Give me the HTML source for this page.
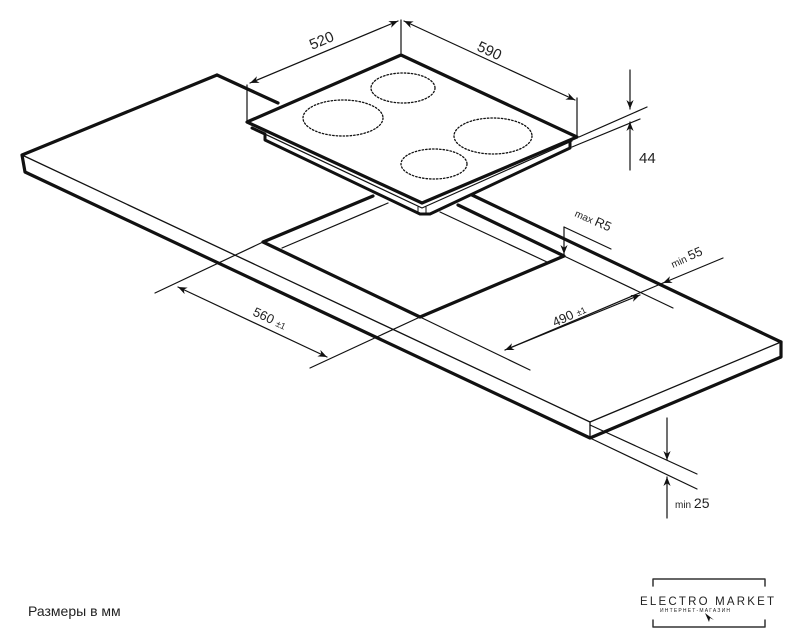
<!DOCTYPE html>
<html><head><meta charset="utf-8"><style>
html,body{margin:0;padding:0;background:#fff;}
svg{display:block;}
text{font-family:"Liberation Sans",sans-serif;fill:#222;}
</style></head><body>
<svg width="805" height="640" viewBox="0 0 805 640" xmlns="http://www.w3.org/2000/svg">
<defs>
<marker id="a" viewBox="0 0 10 10" refX="10" refY="5" markerWidth="9" markerHeight="9" orient="auto-start-reverse" markerUnits="userSpaceOnUse"><path d="M0,1 L10,5 L0,9 L3,5 Z" fill="#111"/></marker>
</defs>
<g stroke="#111" fill="none" stroke-linecap="round" stroke-linejoin="round">
<path d="M217,75 L22,155 L25,172 L590,438 L781,357 L781,342" stroke-width="3.2"/>
<path d="M22,155 L590,422 L781,342" stroke-width="1.3"/>
<path d="M590,422 L590,438" stroke-width="1.3"/>
<path d="M217,75 L278,103" stroke-width="3.2"/>
<path d="M472,195 L781,342" stroke-width="3.2"/>
<path d="M373,196 L263,242 L420,317 L564,256 L458,205" stroke-width="3.2"/>
<path d="M282,248 L388,203" stroke-width="1.2"/>
<path d="M440,212 L547,262" stroke-width="1.2"/>
<path d="M252,128 L265,134 L265,140 L420,214 L430,214 L570,148 L570,141" stroke-width="3"/>
<path d="M252,128 L422,208 L572,141" stroke-width="1.2"/>
<path d="M418,207 L418,213 M426,207 L426,213" stroke-width="1"/>
<path d="M247,122 L401,55 L577,137 L422,203 Z" stroke-width="3.2" fill="#fff"/>
<g stroke-width="1.3" stroke-dasharray="1.5 2">
<ellipse cx="403" cy="88" rx="32" ry="15"/>
<ellipse cx="343" cy="118" rx="40" ry="18"/>
<ellipse cx="493" cy="136" rx="39" ry="18"/>
<ellipse cx="434" cy="164" rx="33" ry="15"/>
</g>
<g stroke-width="1.2">
<path d="M247,85 L247,120 M401,20 L401,53 M577,98 L577,135"/>
<path d="M250,83 L398,21" marker-start="url(#a)" marker-end="url(#a)"/>
<path d="M404,21 L575,100" marker-start="url(#a)" marker-end="url(#a)"/>
<path d="M579,137 L647,107 M572,147 L640,119"/>
<path d="M630,70 L630,109" marker-end="url(#a)"/>
<path d="M630,170 L630,122" marker-end="url(#a)"/>
<path d="M263,242 L155,293 M420,317 L310,368 M564,256 L673,308 M420,317 L530,370"/>
<path d="M178,287 L327,357" marker-start="url(#a)" marker-end="url(#a)"/>
<path d="M505,350 L663,283"/>
<path d="M505,350 L640,295" marker-start="url(#a)" marker-end="url(#a)"/>
<path d="M723,258 L663,283" marker-end="url(#a)"/>
<path d="M564,227 L564,254" marker-end="url(#a)"/>
<path d="M564,227 L611,249"/>
<path d="M590,425 L697,474 M590,438 L697,489"/>
<path d="M667,418 L667,460" marker-end="url(#a)"/>
<path d="M667,518 L667,477" marker-end="url(#a)"/>
</g>
<path d="M653,586 L653,579 L765,579 L765,586 M653,620 L653,627 L765,627 L765,620" stroke-width="1.5" stroke="#333"/>
</g>
<text x="0" y="0" font-size="15" transform="translate(312,50) rotate(-23)">520</text>
<text x="0" y="0" font-size="15" transform="translate(476,50) rotate(25)">590</text>
<text x="639" y="163" font-size="15">44</text>
<text x="0" y="0" font-size="13" transform="translate(252,315) rotate(25)">560 <tspan font-size="9">±1</tspan></text>
<text x="0" y="0" font-size="13" transform="translate(555,327) rotate(-25)">490 <tspan font-size="9">±1</tspan></text>
<text x="0" y="0" font-size="13" transform="translate(574,216) rotate(24)"><tspan font-size="10">max </tspan>R5</text>
<text x="0" y="0" font-size="13" transform="translate(673,268) rotate(-24)"><tspan font-size="10">min </tspan>55</text>
<text x="675" y="508" font-size="14"><tspan font-size="10">min </tspan>25</text>
<text x="28" y="616" font-size="14">Размеры в мм</text>
<text x="640" y="605" font-size="11.5" letter-spacing="2.2" fill="#222">ELECTRO MARKET</text>
<text x="660" y="612" font-size="5" letter-spacing="1.2" fill="#555">ИНТЕРНЕТ-МАГАЗИН</text>
<path d="M705,613 L709,622 L710,618 L714,620 Z" fill="#111"/>
</svg>
</body></html>
